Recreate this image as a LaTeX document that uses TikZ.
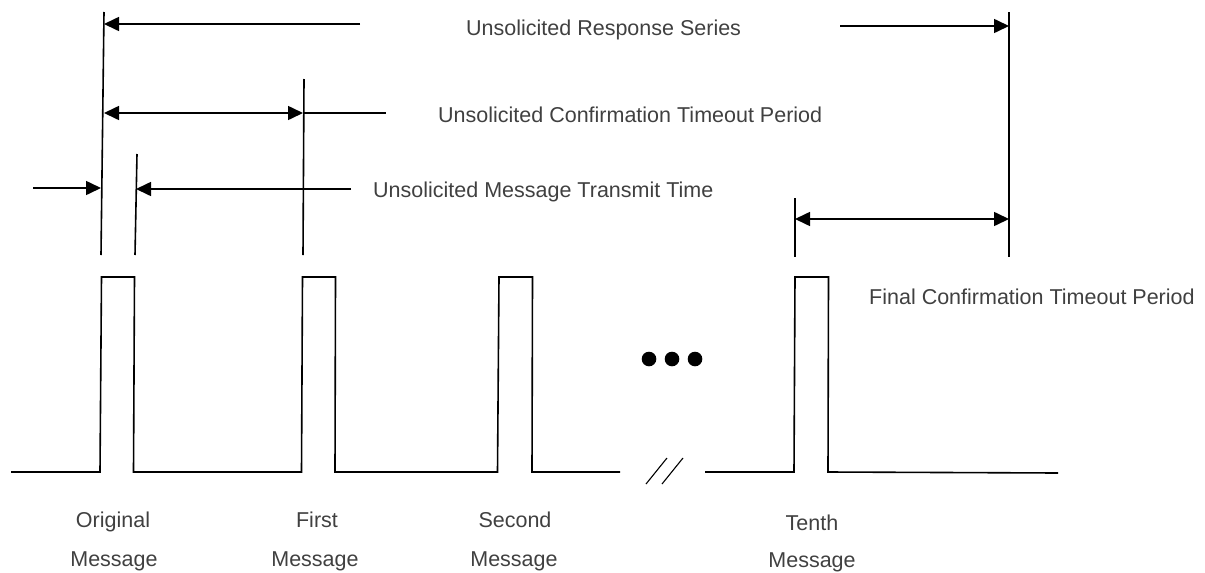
\documentclass[tikz,border=0pt]{standalone}
\usepackage{fontspec}
\setmainfont{Liberation Sans}
\usetikzlibrary{arrows.meta}
\tikzset{
  ln/.style={line width=1.6pt, black},
  arr/.style={ln, -{Triangle[length=15pt,width=14pt]}},
  darr/.style={ln, {Triangle[length=15pt,width=14pt]}-{Triangle[length=15pt,width=14pt]}},
  lbl/.style={inner sep=0pt, text=black!75, font=\fontsize{21.5}{26}\selectfont},
  sig/.style={line width=1.6pt, black, line join=miter},
  brk/.style={line width=1.1pt, black},
  dotc/.style={fill=black, draw=none}
}
\begin{document}
\begin{tikzpicture}[x=1pt,y=-1pt]
\useasboundingbox (0,0) rectangle (1205,573);
% reference coordinates
\coordinate (vAt) at (104,12);   \coordinate (vAb) at (101,255);
\coordinate (vBt) at (137,154);  \coordinate (vBb) at (135,255);
\coordinate (vCt) at (304,79);   \coordinate (vCb) at (303,255);
\coordinate (vDt) at (795,198);  \coordinate (vDb) at (795,257);
\coordinate (vEt) at (1009,12);  \coordinate (vEb) at (1009,257);
% vertical marker lines
\draw[ln] (vAt) -- (vAb);
\draw[ln] (vBt) -- (vBb);
\draw[ln] (vCt) -- (vCb);
\draw[ln] (vDt) -- (vDb);
\draw[ln] (vEt) -- (vEb);
% Unsolicited Response Series
\coordinate (rsL) at (360,24);  \coordinate (rsLt) at (104,24);
\coordinate (rsR) at (840,26);  \coordinate (rsRt) at (1009,26);
\draw[arr] (rsL) -- (rsLt);
\draw[arr] (rsR) -- (rsRt);
\node[lbl, anchor=base west] (rs) at (466,35.5) {Unsolicited Response Series};
% Unsolicited Confirmation Timeout Period
\coordinate (ctA) at (104,113);  \coordinate (ctB) at (303,113);  \coordinate (ctC) at (386,113);
\draw[darr] (ctA) -- (ctB);
\draw[ln] (ctB) -- (ctC);
\node[lbl, anchor=base west] (ct) at (438,122.5) {Unsolicited Confirmation Timeout Period};
% Unsolicited Message Transmit Time
\coordinate (mtL) at (33,188);   \coordinate (mtLt) at (101,188);
\coordinate (mtR) at (351,189);  \coordinate (mtRt) at (136,189);
\draw[arr] (mtL) -- (mtLt);
\draw[arr] (mtR) -- (mtRt);
\node[lbl, anchor=base west] (mt) at (373,197.5) {Unsolicited Message Transmit Time};
% Final Confirmation Timeout Period
\coordinate (fcA) at (795,219);  \coordinate (fcB) at (1009,219);
\draw[darr] (fcA) -- (fcB);
\node[lbl, anchor=base west] (fc) at (869,304) {Final Confirmation Timeout Period};
% signal
\draw[sig] (11,472) -- (100,472) -- (101.5,277) -- (134.5,277) -- (133.5,472)
  -- (301.5,472) -- (302.5,277) -- (335.5,277) -- (335,472)
  -- (497.5,472) -- (499,277) -- (532.5,277) -- (532,472) -- (620,472);
\draw[sig] (705,472) -- (794,472) -- (795,277) -- (828.5,277) -- (828,472) -- (1058,473);
% break mark
\draw[brk] (646,484) -- (667,458);
\draw[brk] (662,484) -- (683,458);
% ellipsis dots
\fill[dotc] (649,359) circle (7.3);
\fill[dotc] (672,359) circle (7.3);
\fill[dotc] (695,359) circle (7.3);
% message labels
\node[lbl, anchor=base] (o1) at (113,527.5) {Original};
\node[lbl, anchor=base] (o2) at (114,566) {Message};
\node[lbl, anchor=base] (f1) at (317,527) {First};
\node[lbl, anchor=base] (f2) at (315,566) {Message};
\node[lbl, anchor=base] (s1) at (515,527) {Second};
\node[lbl, anchor=base] (s2) at (514,566.5) {Message};
\node[lbl, anchor=base] (t1) at (812,530.5) {Tenth};
\node[lbl, anchor=base] (t2) at (812,567.5) {Message};
\end{tikzpicture}
\end{document}
